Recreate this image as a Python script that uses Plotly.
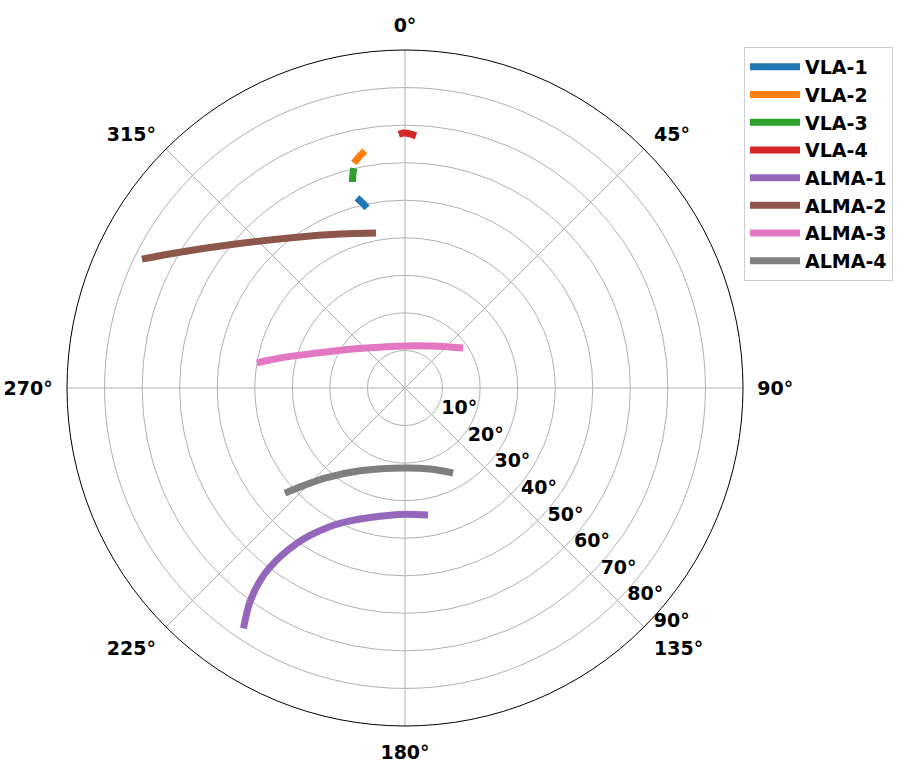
import plotly.graph_objects as go

# Tracks: azimuth (deg, clockwise from North) and zenith angle (deg)
names = ["VLA-1", "VLA-2", "VLA-3", "VLA-4", "ALMA-1", "ALMA-2", "ALMA-3", "ALMA-4"]
colors = ["#1f77b4", "#ff7f0e", "#2ca02c", "#d62728",
          "#9467bd", "#8c564b", "#e377c2", "#7f7f7f"]

vla1_az = [345.8, 347.0, 348.1]
vla1_zen = [52.2, 50.6, 49.0]
vla2_az = [347.2, 348.8, 350.4]
vla2_zen = [61.4, 62.8, 64.0]
vla3_az = [346.9, 346.2, 345.7]
vla3_zen = [60.1, 58.3, 56.6]
vla4_az = [358.6, 0.0, 2.5]
vla4_zen = [67.6, 67.9, 67.2]
alma1_az = [213.9, 216.0, 217.05, 216.5, 214.85, 212.8, 208.4, 202.5, 195.1, 186.7, 180.0, 169.7]
alma1_zen = [77.1, 70.1, 62.6, 55.9, 50.4, 46.7, 41.9, 38.3, 35.7, 34.1, 33.65, 34.4]
alma2_az = [296.1, 301.1, 309.3, 324.4, 337.1, 349.4]
alma2_zen = [78.0, 70.0, 60.2, 49.4, 44.5, 42.0]
alma3_az = [279.6, 283.5, 291.7, 305.3, 331.8, 0.0, 30.8, 55.4]
alma3_zen = [40.0, 34.2, 25.2, 17.9, 12.4, 11.2, 13.0, 18.8]
alma4_az = [228.8, 221.6, 208.5, 180.0, 162.8, 150.5]
alma4_zen = [42.5, 32.1, 25.1, 21.3, 22.6, 26.0]

az_data = [vla1_az, vla2_az, vla3_az, vla4_az, alma1_az, alma2_az, alma3_az, alma4_az]
zen_data = [vla1_zen, vla2_zen, vla3_zen, vla4_zen, alma1_zen, alma2_zen, alma3_zen, alma4_zen]

ang_ticks = [0, 45, 90, 135, 180, 225, 270, 315]
ang_labels = ["0°", "45°", "90°", "135°", "180°", "225°", "270°", "315°"]
rad_ticks = [10, 20, 30, 40, 50, 60, 70, 80, 90]
rad_labels = ["10°", "20°", "30°", "40°", "50°", "60°", "70°", "80°", "90°"]

FONT = "DejaVu Sans"
FS = 19

fig = go.Figure()
for n, c, a, z in zip(names, colors, az_data, zen_data):
    fig.add_trace(go.Scatterpolar(
        theta=a, r=z, mode="lines", name=n,
        line=dict(color=c, width=7, shape="spline", smoothing=1.0),
    ))

fig.update_layout(
    width=906, height=777,
    margin=dict(l=0, r=0, t=0, b=0),
    paper_bgcolor="white",
    font=dict(family=FONT, size=FS, color="black"),
    polar=dict(
        domain=dict(x=[67 / 906, 743 / 906], y=[1 - 726 / 777, 1 - 50 / 777]),
        bgcolor="white",
        angularaxis=dict(
            direction="clockwise", rotation=90,
            tickmode="array", tickvals=ang_ticks, ticktext=ang_labels,
            tickfont=dict(family=FONT, size=FS, color="black", weight="bold"),
            showline=True, linecolor="black", linewidth=1,
            showgrid=True, gridcolor="#b0b0b0", gridwidth=1,
            ticks="outside", ticklen=10, tickcolor="rgba(0,0,0,0)",
        ),
        radialaxis=dict(
            range=[0, 90], angle=-45, side="counterclockwise", tickangle=-45,
            tickmode="array", tickvals=rad_ticks, ticktext=rad_labels,
            tickfont=dict(family=FONT, size=FS, color="black", weight="bold"),
            showline=False, ticks="",
            showgrid=True, gridcolor="#b0b0b0", gridwidth=1,
        ),
    ),
    legend=dict(
        x=744 / 906, y=1 - 47 / 777, xanchor="left", yanchor="top",
        bordercolor="#d0d0d0", borderwidth=1, bgcolor="white",
        font=dict(family=FONT, size=FS, color="black", weight="bold"),
        tracegroupgap=0, itemwidth=50,
    ),
)

fig.write_html("out.html")
